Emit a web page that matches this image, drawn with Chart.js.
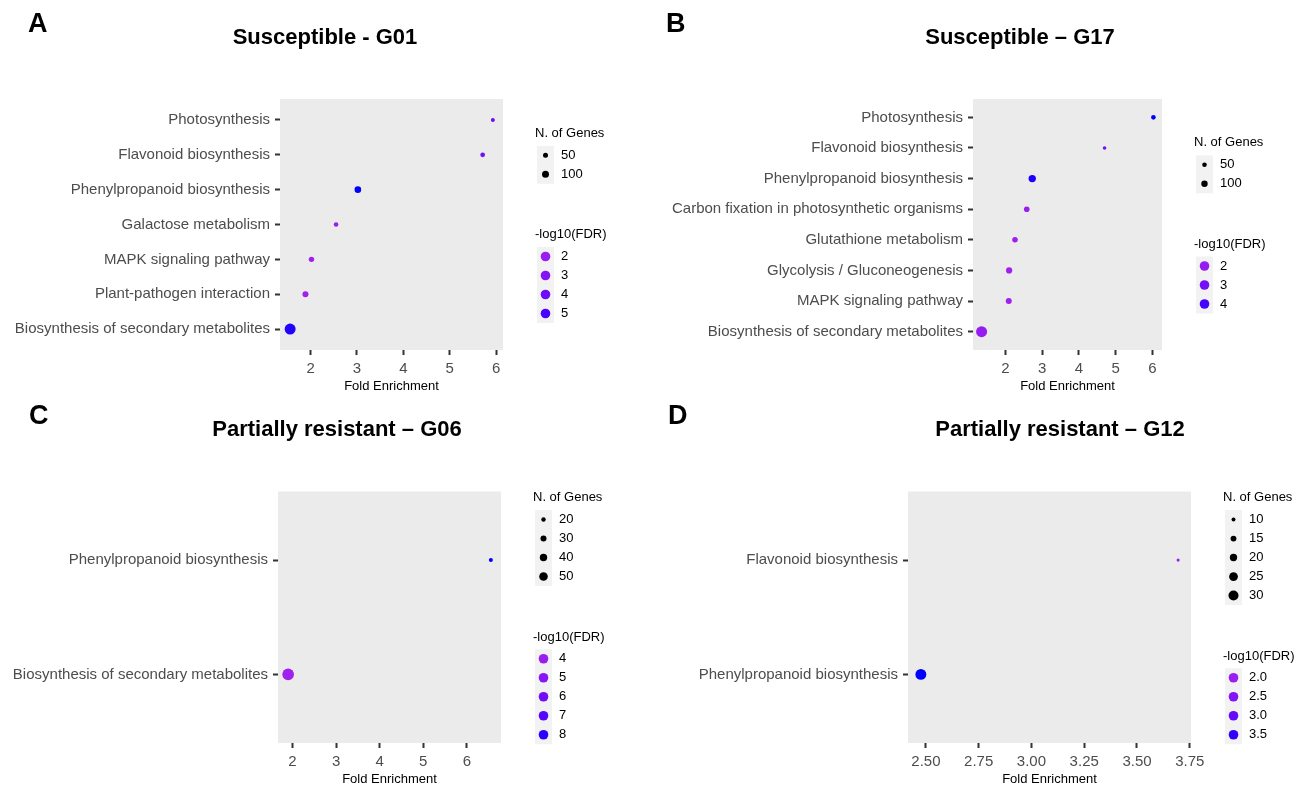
<!DOCTYPE html>
<html>
<head>
<meta charset="utf-8">
<script src="https://cdn.jsdelivr.net/npm/chart.js@4.4.1/dist/chart.umd.min.js"></script>
<style>
  body { margin: 0; background: #fff; font-family: "Liberation Sans", Arial, sans-serif; }
  #page { position: relative; width: 1296px; height: 788px; overflow: hidden; }
  canvas { position: absolute; left: 0; top: 0; }
  .tag { position: absolute; font-weight: bold; font-size: 27px; line-height: 1; }
  .title { position: absolute; font-weight: bold; font-size: 22px; line-height: 1; white-space: nowrap; transform: translateX(-50%); }
</style>
</head>
<body>
<div id="page">
  <canvas id="cA" width="1296" height="788"></canvas>
  <canvas id="cB" width="1296" height="788"></canvas>
  <canvas id="cC" width="1296" height="788"></canvas>
  <canvas id="cD" width="1296" height="788"></canvas>
  <div class="tag" style="left:28px;top:10px">A</div>
  <div class="tag" style="left:666px;top:10px">B</div>
  <div class="tag" style="left:29px;top:402px">C</div>
  <div class="tag" style="left:668px;top:402px">D</div>
  <div class="title" style="left:325px;top:26px">Susceptible - G01</div>
  <div class="title" style="left:1020px;top:26px">Susceptible – G17</div>
  <div class="title" style="left:337px;top:418px">Partially resistant – G06</div>
  <div class="title" style="left:1060px;top:418px">Partially resistant – G12</div>
</div>
<script>
// categories top to bottom, fold enrichment, number of genes, -log10(FDR)
const catsA = ["Photosynthesis", "Flavonoid biosynthesis", "Phenylpropanoid biosynthesis", "Galactose metabolism",
  "MAPK signaling pathway", "Plant-pathogen interaction", "Biosynthesis of secondary metabolites"];
const foldA = [5.93, 5.71, 3.02, 2.55, 2.02, 1.89, 1.56];
const genesA = [31, 45, 89, 42, 59, 73, 251];
const fdrA = [3.9, 3.7, 5.9, 2.1, 1.8, 1.7, 5.7];
const xTicksA = [2, 3, 4, 5, 6];
const sizeBreaksA = [50, 100];
const fdrBreaksA = [2, 3, 4, 5];

const catsB = ["Photosynthesis", "Flavonoid biosynthesis", "Phenylpropanoid biosynthesis",
  "Carbon fixation in photosynthetic organisms", "Glutathione metabolism", "Glycolysis / Gluconeogenesis",
  "MAPK signaling pathway", "Biosynthesis of secondary metabolites"];
const foldB = [6.03, 4.70, 2.73, 2.58, 2.26, 2.10, 2.09, 1.35];
const genesB = [50, 30, 135, 76, 74, 95, 87, 306];
const fdrB = [4.5, 3.0, 4.4, 1.9, 1.8, 1.7, 1.7, 2.0];
const xTicksB = [2, 3, 4, 5, 6];
const sizeBreaksB = [50, 100];
const fdrBreaksB = [2, 3, 4];

const catsC = ["Phenylpropanoid biosynthesis", "Biosynthesis of secondary metabolites"];
const foldC = [6.55, 1.90];
const genesC = [18, 80];
const fdrC = [8.4, 3.7];
const xTicksC = [2, 3, 4, 5, 6];
const sizeBreaksC = [20, 30, 40, 50];
const fdrBreaksC = [4, 5, 6, 7, 8];

const catsD = ["Flavonoid biosynthesis", "Phenylpropanoid biosynthesis"];
const foldD = [3.695, 2.476];
const genesD = [8, 34];
const fdrD = [1.9, 3.7];
const xTicksD = [2.5, 2.75, 3, 3.25, 3.5, 3.75];
const sizeBreaksD = [10, 15, 20, 25, 30];
const fdrBreaksD = [2.0, 2.5, 3.0, 3.5];

const FONT = '"Liberation Sans", Arial, sans-serif';

// colour gradient purple -> blue, interpolated in Lab like ggplot
const WHITE = [0.95047, 1, 1.08883];
function toLinear(c) { c /= 255; return c <= 0.04045 ? c / 12.92 : Math.pow((c + 0.055) / 1.055, 2.4); }
function fromLinear(c) {
  const v = c <= 0.0031308 ? 12.92 * c : 1.055 * Math.pow(Math.max(c, 0), 1 / 2.4) - 0.055;
  return Math.round(Math.min(1, Math.max(0, v)) * 255);
}
function rgbToLab(rgb) {
  const [r, g, b] = rgb.map(toLinear);
  const xyz = [0.4124 * r + 0.3576 * g + 0.1805 * b, 0.2126 * r + 0.7152 * g + 0.0722 * b, 0.0193 * r + 0.1192 * g + 0.9505 * b];
  const f = xyz.map((v, i) => { const t = v / WHITE[i]; return t > 0.008856 ? Math.cbrt(t) : 7.787 * t + 16 / 116; });
  return [116 * f[1] - 16, 500 * (f[0] - f[1]), 200 * (f[1] - f[2])];
}
function labToRgb([L, a, b]) {
  const fy = (L + 16) / 116, fx = fy + a / 500, fz = fy - b / 200;
  const inv = t => t > 0.206893 ? t * t * t : (t - 16 / 116) / 7.787;
  const x = inv(fx) * WHITE[0], y = inv(fy) * WHITE[1], z = inv(fz) * WHITE[2];
  return [3.2406 * x - 1.5372 * y - 0.4986 * z, -0.9689 * x + 1.8758 * y + 0.0415 * z, 0.0557 * x - 0.2040 * y + 1.0570 * z].map(fromLinear);
}
const LOW = rgbToLab([160, 32, 240]), HIGH = rgbToLab([0, 0, 255]);
function fdrColor(v, lo, hi) {
  const t = Math.min(1, Math.max(0, (v - lo) / (hi - lo)));
  const [r, g, b] = labToRgb(LOW.map((c, i) => c + (HIGH[i] - c) * t));
  return `rgb(${r},${g},${b})`;
}

const panels = [
  { id: "cA", cats: catsA, fold: foldA, genes: genesA, fdr: fdrA, xTicks: xTicksA, dec: 0,
    sizeBreaks: sizeBreaksA, fdrBreaks: fdrBreaksA, fdrDec: 0,
    plot: { left: 280, top: 99, right: 503, bottom: 350 }, size: { n1: 50, r1: 2.5, n2: 100, r2: 3.5 } },
  { id: "cB", cats: catsB, fold: foldB, genes: genesB, fdr: fdrB, xTicks: xTicksB, dec: 0,
    sizeBreaks: sizeBreaksB, fdrBreaks: fdrBreaksB, fdrDec: 0,
    plot: { left: 973, top: 99, right: 1162, bottom: 350 }, size: { n1: 50, r1: 2.3, n2: 100, r2: 3.2 } },
  { id: "cC", cats: catsC, fold: foldC, genes: genesC, fdr: fdrC, xTicks: xTicksC, dec: 0,
    sizeBreaks: sizeBreaksC, fdrBreaks: fdrBreaksC, fdrDec: 0,
    plot: { left: 278, top: 491.5, right: 501, bottom: 743 }, size: { n1: 20, r1: 2.2, n2: 50, r2: 4.3 } },
  { id: "cD", cats: catsD, fold: foldD, genes: genesD, fdr: fdrD, xTicks: xTicksD, dec: 2,
    sizeBreaks: sizeBreaksD, fdrBreaks: fdrBreaksD, fdrDec: 1,
    plot: { left: 908, top: 491.5, right: 1191, bottom: 743 }, size: { n1: 10, r1: 2.0, n2: 30, r2: 5.0 } }
];

const panelBg = {
  id: "panelBg",
  beforeDraw(chart) {
    const { ctx, chartArea: a } = chart;
    ctx.save();
    ctx.fillStyle = "#ebebeb";
    ctx.fillRect(a.left, a.top, a.right - a.left, a.bottom - a.top);
    ctx.restore();
  }
};

function legendPlugin(p, lo, hi, radius) {
  return {
    id: "ggLegend",
    afterDraw(chart) {
      const { ctx, chartArea: a } = chart;
      const nS = p.sizeBreaks.length, nF = p.fdrBreaks.length;
      const h = 7 + 22.3 + (nS - 1) * 19 + 60.5 + 21.7 + (nF - 1) * 19 + 9.5;
      const sTitle = (a.top + a.bottom) / 2 - h / 2 + 7;
      const s0 = sTitle + 22.3;
      const fTitle = s0 + (nS - 1) * 19 + 60.5;
      const f0 = fTitle + 21.7;
      const tx = a.right + 32, kx = a.right + 42.5, lx = a.right + 58;
      ctx.save();
      ctx.font = "13px " + FONT;
      ctx.textBaseline = "middle";
      ctx.textAlign = "left";
      // key backgrounds
      ctx.fillStyle = "#f2f2f2";
      ctx.fillRect(kx - 8.5, s0 - 9.5, 17, nS * 19);
      ctx.fillRect(kx - 8.5, f0 - 9.5, 17, nF * 19);
      ctx.fillStyle = "#000";
      ctx.fillText("N. of Genes", tx, sTitle);
      ctx.fillText("-log10(FDR)", tx, fTitle);
      p.sizeBreaks.forEach((b, i) => {
        const y = s0 + i * 19;
        ctx.fillStyle = "#000";
        ctx.beginPath();
        ctx.arc(kx, y, radius(b), 0, Math.PI * 2);
        ctx.fill();
        ctx.fillText(String(b), lx, y);
      });
      p.fdrBreaks.forEach((b, i) => {
        const y = f0 + i * 19;
        ctx.fillStyle = fdrColor(b, lo, hi);
        ctx.beginPath();
        ctx.arc(kx, y, 4.8, 0, Math.PI * 2);
        ctx.fill();
        ctx.fillStyle = "#000";
        ctx.fillText(b.toFixed(p.fdrDec), lx, y);
      });
      ctx.restore();
    }
  };
}

panels.forEach(p => {
  const n = p.cats.length;
  const lo = Math.min(...p.fdr), hi = Math.max(...p.fdr);
  const s = p.size;
  const radius = g => Math.max(1, s.r1 + (s.r2 - s.r1) * (Math.sqrt(g) - Math.sqrt(s.n1)) / (Math.sqrt(s.n2) - Math.sqrt(s.n1)));
  const fmin = Math.min(...p.fold), fmax = Math.max(...p.fold), pad = (fmax - fmin) * 0.05;
  const tickGrid = { display: true, drawOnChartArea: false, drawTicks: true, tickLength: 5, tickColor: "#333333", tickWidth: 2 };

  new Chart(document.getElementById(p.id), {
    type: "bubble",
    data: {
      datasets: [{
        data: p.cats.map((c, i) => ({ x: p.fold[i], y: n - i, r: radius(p.genes[i]) })),
        backgroundColor: p.fdr.map(v => fdrColor(v, lo, hi)),
        borderWidth: 0,
        hoverRadius: 0
      }]
    },
    options: {
      responsive: false,
      animation: false,
      devicePixelRatio: 1,
      events: [],
      layout: {
        padding: { left: 0, right: 1296 - p.plot.right, top: p.plot.top, bottom: 788 - p.plot.bottom - 44 }
      },
      plugins: { legend: { display: false }, tooltip: { enabled: false }, title: { display: false } },
      scales: {
        x: {
          type: "linear",
          min: fmin - pad,
          max: fmax + pad,
          afterBuildTicks: sc => { sc.ticks = p.xTicks.map(v => ({ value: v })); },
          afterFit: sc => { sc.height = 44; },
          grid: tickGrid,
          border: { display: false },
          ticks: {
            autoSkip: false, maxRotation: 0, padding: 5, color: "#4d4d4d",
            font: { family: FONT, size: 15 },
            callback: v => Number(v).toFixed(p.dec)
          },
          title: { display: true, text: "Fold Enrichment", color: "#000", font: { family: FONT, size: 13 }, padding: { top: 0, bottom: 0 } }
        },
        y: {
          type: "linear",
          min: 0.4,
          max: n + 0.6,
          afterBuildTicks: sc => { sc.ticks = p.cats.map((c, i) => ({ value: n - i })); },
          afterFit: sc => { sc.width = p.plot.left; },
          grid: tickGrid,
          border: { display: false },
          ticks: {
            autoSkip: false, padding: 5, color: "#4d4d4d",
            font: { family: FONT, size: 15 },
            callback: v => p.cats[n - Math.round(v)]
          }
        }
      }
    },
    plugins: [panelBg, legendPlugin(p, lo, hi, radius)]
  });
});
</script>
</body>
</html>
